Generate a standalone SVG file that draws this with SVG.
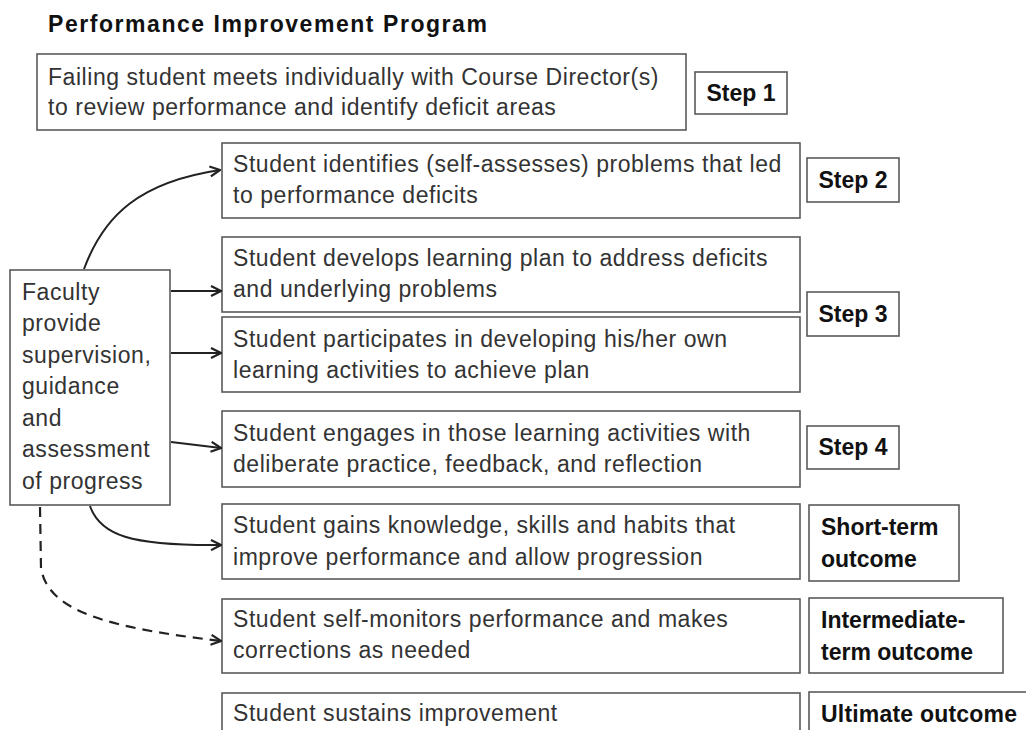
<svg xmlns="http://www.w3.org/2000/svg" width="1026" height="730" viewBox="0 0 1026 730">
<defs>
<style>
.box{fill:#fff;stroke:#5a5a5a;stroke-width:1.6}
.t{font-family:"Liberation Sans",Arial,sans-serif;font-size:23px;letter-spacing:0.55px;fill:#333}
.b{font-family:"Liberation Sans",Arial,sans-serif;font-size:23px;font-weight:bold;fill:#111}
.c{fill:none;stroke:#222;stroke-width:2}
.d{fill:none;stroke:#222;stroke-width:2.2;stroke-dasharray:10,7}
</style>
<marker id="ah" viewBox="0 0 12 12" refX="11" refY="6" markerWidth="12" markerHeight="12" markerUnits="userSpaceOnUse" orient="auto">
<path d="M1,1 L11,6 L1,11" fill="none" stroke="#222" stroke-width="2.2"/>
</marker>
</defs>
<rect width="1026" height="730" fill="#fff"/>
<text class="b" x="48" y="32" font-size="23.5" letter-spacing="1.55">Performance Improvement Program</text>

<g id="step1-box"><rect class="box" x="37" y="54" width="649" height="76"/>
<text class="t" x="48" y="85">Failing student meets individually with Course Director(s)</text>
<text class="t" x="48" y="115">to review performance and identify deficit areas</text></g>
<g id="step1"><rect class="box" x="695" y="72" width="92" height="42"/><text class="b" x="741" y="101" text-anchor="middle" font-size="22.5">Step 1</text></g>

<g id="box2"><rect class="box" x="222" y="143" width="578" height="75"/>
<text class="t" x="233" y="172">Student identifies (self-assesses) problems that led</text>
<text class="t" x="233" y="203">to performance deficits</text></g>
<g id="step2"><rect class="box" x="807" y="158" width="92" height="44"/><text class="b" x="853" y="188" text-anchor="middle" font-size="22.5">Step 2</text></g>

<g id="box3a"><rect class="box" x="222" y="237" width="578" height="75"/>
<text class="t" x="233" y="266">Student develops learning plan to address deficits</text>
<text class="t" x="233" y="297">and underlying problems</text></g>
<g id="box3b"><rect class="box" x="222" y="317" width="578" height="75"/>
<text class="t" x="233" y="347">Student participates in developing his/her own</text>
<text class="t" x="233" y="378">learning activities to achieve plan</text></g>
<g id="step3"><rect class="box" x="807" y="292" width="92" height="44"/><text class="b" x="853" y="322" text-anchor="middle" font-size="22.5">Step 3</text></g>

<g id="box4"><rect class="box" x="222" y="411" width="578" height="76"/>
<text class="t" x="233" y="441">Student engages in those learning activities with</text>
<text class="t" x="233" y="472">deliberate practice, feedback, and reflection</text></g>
<g id="step4"><rect class="box" x="807" y="426" width="92" height="43"/><text class="b" x="853" y="455" text-anchor="middle" font-size="22.5">Step 4</text></g>

<g id="box5"><rect class="box" x="222" y="504" width="578" height="75"/>
<text class="t" x="233" y="533">Student gains knowledge, skills and habits that</text>
<text class="t" x="233" y="565">improve performance and allow progression</text></g>
<g id="short"><rect class="box" x="809" y="505" width="150" height="76"/>
<text class="b" x="821" y="535">Short-term</text><text class="b" x="821" y="567">outcome</text></g>

<g id="box6"><rect class="box" x="222" y="599" width="578" height="74"/>
<text class="t" x="233" y="627">Student self-monitors performance and makes</text>
<text class="t" x="233" y="658">corrections as needed</text></g>
<g id="inter"><rect class="box" x="809" y="598" width="194" height="75"/>
<text class="b" x="821" y="628">Intermediate-</text><text class="b" x="821" y="660">term outcome</text></g>

<g id="box7"><rect class="box" x="222" y="693" width="578" height="50"/>
<text class="t" x="233" y="721">Student sustains improvement</text></g>
<g id="ultimate"><rect class="box" x="809" y="692" width="230" height="50"/>
<text class="b" x="821" y="722" letter-spacing="0.2">Ultimate outcome</text></g>

<g id="faculty"><rect class="box" x="10" y="270" width="160" height="235"/>
<text class="t" x="22" y="300">Faculty</text>
<text class="t" x="22" y="331">provide</text>
<text class="t" x="22" y="363">supervision,</text>
<text class="t" x="22" y="394">guidance</text>
<text class="t" x="22" y="426">and</text>
<text class="t" x="22" y="457">assessment</text>
<text class="t" x="22" y="489">of progress</text></g>

<g id="connectors">
<path class="c" d="M84,269 C104,215 140,182 220,170" marker-end="url(#ah)"/>
<path class="c" d="M171,291 L221,291" marker-end="url(#ah)"/>
<path class="c" d="M171,353 L221,353" marker-end="url(#ah)"/>
<path class="c" d="M171,442 L221,448" marker-end="url(#ah)"/>
<path class="c" d="M90,506 C100,535 130,546 221,545" marker-end="url(#ah)"/>
<path class="d" d="M40,507 L41,568 C48,612 110,628 221,641" marker-end="url(#ah)"/>
</g>
</svg>
